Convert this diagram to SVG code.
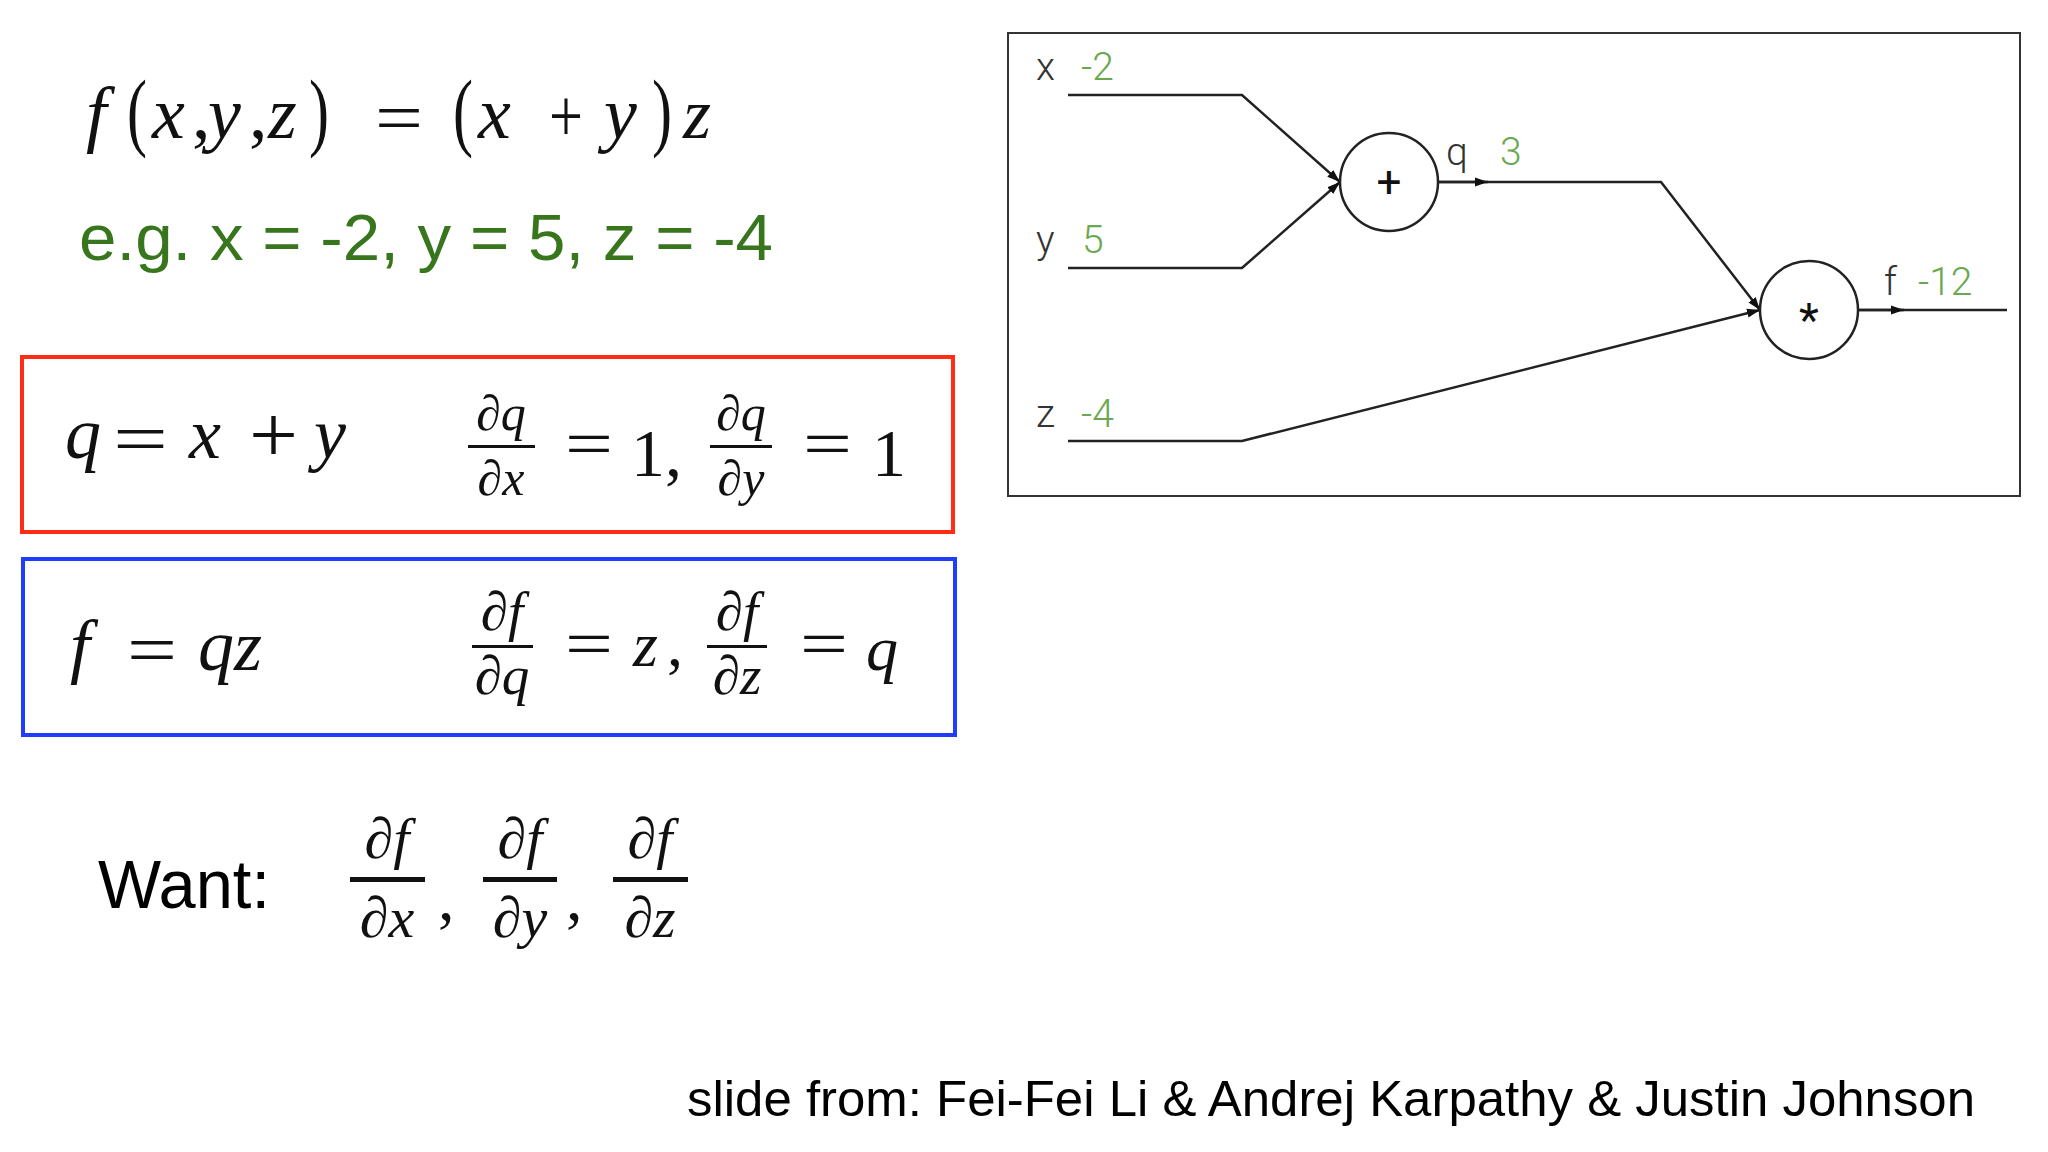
<svg xmlns="http://www.w3.org/2000/svg" width="2048" height="1152" viewBox="0 0 2048 1152">
<style>
.m{font-family:"Liberation Serif","Times New Roman",serif;font-style:italic;fill:#111}
.r{font-family:"Liberation Serif","Times New Roman",serif;font-style:normal;fill:#111}
.s{font-family:"Liberation Sans",Arial,sans-serif;fill:#000}
.lbl{font-family:Roboto,"Liberation Sans",sans-serif;font-weight:300;font-size:39px;fill:#333}
.val{font-family:Roboto,"Liberation Sans",sans-serif;font-weight:300;font-size:39px;fill:#6aa84f}
.op{font-family:Roboto,"Liberation Sans",sans-serif;font-weight:400;fill:#111}
.bar{fill:#111}
.wire{fill:none;stroke:#222;stroke-width:2.5}
.node{fill:#fff;stroke:#222;stroke-width:2.5}
</style>
<defs>
<marker id="ah" markerUnits="userSpaceOnUse" markerWidth="14" markerHeight="10" refX="13" refY="5" orient="auto">
<path d="M0,0.5 L13,5 L0,9.5 z" fill="#111"/>
</marker>
</defs>
<rect width="2048" height="1152" fill="#fff"/>

<g id="title">
<text class="m" x="86" y="138" font-size="74">f</text>
<text class="r" x="127" y="140" font-size="86" textLength="20" lengthAdjust="spacingAndGlyphs">(</text>
<text class="m" x="152" y="138" font-size="74">x</text>
<text class="r" x="192" y="138" font-size="74">,</text>
<text class="m" x="208" y="138" font-size="74">y</text>
<text class="r" x="249" y="138" font-size="74">,</text>
<text class="m" x="268" y="138" font-size="74">z</text>
<text class="r" x="309" y="140" font-size="86" textLength="20" lengthAdjust="spacingAndGlyphs">)</text>
<text class="r" x="375" y="142" font-size="72" textLength="48" lengthAdjust="spacingAndGlyphs">=</text>
<text class="r" x="453" y="140" font-size="86" textLength="20" lengthAdjust="spacingAndGlyphs">(</text>
<text class="m" x="478" y="138" font-size="74">x</text>
<text class="r" x="549" y="141" font-size="76" textLength="34" lengthAdjust="spacingAndGlyphs">+</text>
<text class="m" x="604" y="138" font-size="74">y</text>
<text class="r" x="652" y="140" font-size="86" textLength="20" lengthAdjust="spacingAndGlyphs">)</text>
<text class="m" x="683" y="138" font-size="72">z</text>
</g>

<g id="example">
<text class="s" x="79" y="260" font-size="65" style="fill:#38761d" textLength="694" lengthAdjust="spacingAndGlyphs">e.g. x = -2, y = 5, z = -4</text>
</g>

<g id="red-box">
<rect x="22" y="357" width="931" height="175" fill="none" stroke="#ff2d16" stroke-width="4"/>
<text class="m" x="65" y="458" font-size="72">q</text>
<text class="r" x="113" y="463" font-size="72" textLength="55" lengthAdjust="spacingAndGlyphs">=</text>
<text class="m" x="189" y="458" font-size="72">x</text>
<text class="r" x="249" y="462" font-size="80" textLength="49" lengthAdjust="spacingAndGlyphs">+</text>
<text class="m" x="314" y="458" font-size="72">y</text>
<text class="m" x="501" y="430" font-size="50" text-anchor="middle">∂q</text>
<rect class="bar" x="468" y="445" width="67" height="3"/>
<text class="m" x="501" y="495" font-size="50" text-anchor="middle">∂x</text>
<text class="r" x="565" y="466" font-size="66" textLength="48" lengthAdjust="spacingAndGlyphs">=</text>
<text class="r" x="631" y="476" font-size="68">1,</text>
<text class="m" x="741" y="430" font-size="50" text-anchor="middle">∂q</text>
<rect class="bar" x="710" y="445" width="62" height="3"/>
<text class="m" x="741" y="495" font-size="50" text-anchor="middle">∂y</text>
<text class="r" x="803" y="466" font-size="66" textLength="49" lengthAdjust="spacingAndGlyphs">=</text>
<text class="r" x="872" y="476" font-size="68">1</text>
</g>

<g id="blue-box">
<rect x="23" y="559" width="932" height="176" fill="none" stroke="#1f3cff" stroke-width="4"/>
<text class="m" x="70" y="670" font-size="72">f</text>
<text class="r" x="127" y="674" font-size="72" textLength="50" lengthAdjust="spacingAndGlyphs">=</text>
<text class="m" x="198" y="670" font-size="72">qz</text>
<text class="m" x="502" y="630" font-size="55" text-anchor="middle">∂f</text>
<rect class="bar" x="472" y="645" width="61" height="3"/>
<text class="m" x="502" y="694" font-size="55" text-anchor="middle">∂q</text>
<text class="r" x="565" y="666" font-size="66" textLength="48" lengthAdjust="spacingAndGlyphs">=</text>
<text class="m" x="633" y="666" font-size="64">z</text>
<text class="r" x="667" y="666" font-size="64">,</text>
<text class="m" x="737" y="630" font-size="55" text-anchor="middle">∂f</text>
<rect class="bar" x="707" y="645" width="60" height="3"/>
<text class="m" x="737" y="694" font-size="55" text-anchor="middle">∂z</text>
<text class="r" x="800" y="666" font-size="66" textLength="48" lengthAdjust="spacingAndGlyphs">=</text>
<text class="m" x="866" y="670" font-size="64">q</text>
</g>

<g id="want">
<text class="s" x="98" y="908" font-size="68" textLength="172" lengthAdjust="spacingAndGlyphs">Want:</text>
<text class="m" x="387" y="858" font-size="58" text-anchor="middle">∂f</text>
<rect class="bar" x="350" y="877" width="75" height="5"/>
<text class="m" x="387" y="937" font-size="58" text-anchor="middle">∂x</text>
<text class="r" x="438" y="920" font-size="66">,</text>
<text class="m" x="520" y="858" font-size="58" text-anchor="middle">∂f</text>
<rect class="bar" x="483" y="877" width="74" height="5"/>
<text class="m" x="520" y="937" font-size="58" text-anchor="middle">∂y</text>
<text class="r" x="566" y="920" font-size="66">,</text>
<text class="m" x="650" y="858" font-size="58" text-anchor="middle">∂f</text>
<rect class="bar" x="613" y="877" width="75" height="5"/>
<text class="m" x="650" y="937" font-size="58" text-anchor="middle">∂z</text>
</g>

<g id="graph-frame">
<rect x="1008" y="33" width="1012" height="463" fill="none" stroke="#333" stroke-width="2"/>
</g>

<g id="connectors">
<path class="wire" d="M1068 95 H1242 L1340 182" marker-end="url(#ah)"/>
<path class="wire" d="M1068 268 H1242 L1340 182" marker-end="url(#ah)"/>
<path class="wire" d="M1068 441 H1242 L1760 310" marker-end="url(#ah)"/>
<path class="wire" d="M1438 182 H1661 L1760 310" marker-end="url(#ah)"/>
<path class="wire" d="M1438 182 H1488" marker-end="url(#ah)"/>
<path class="wire" d="M1858 310 H2007"/>
<path class="wire" d="M1858 310 H1904" marker-end="url(#ah)"/>
</g>

<g id="input-x">
<text class="lbl" x="1036" y="80">x</text>
<text class="val" x="1081" y="80">-2</text>
</g>
<g id="input-y">
<text class="lbl" x="1036" y="253">y</text>
<text class="val" x="1082" y="253">5</text>
</g>
<g id="input-z">
<text class="lbl" x="1036" y="427">z</text>
<text class="val" x="1081" y="427">-4</text>
</g>

<g id="node-add">
<circle class="node" cx="1389" cy="182" r="49"/>
<text class="op" x="1389" y="197" font-size="44" text-anchor="middle">+</text>
</g>
<g id="label-q">
<text class="lbl" x="1446" y="165">q</text>
<text class="val" x="1500" y="165">3</text>
</g>

<g id="node-mul">
<circle class="node" cx="1809" cy="310" r="49"/>
<text class="op" x="1809" y="336" font-size="46" text-anchor="middle">*</text>
</g>
<g id="label-f">
<text class="lbl" x="1884" y="295">f</text>
<text class="val" x="1918" y="295">-12</text>
</g>

<g id="credit">
<text class="s" x="687" y="1116" font-size="50" textLength="1288" lengthAdjust="spacingAndGlyphs">slide from: Fei-Fei Li &amp; Andrej Karpathy &amp; Justin Johnson</text>
</g>
</svg>
